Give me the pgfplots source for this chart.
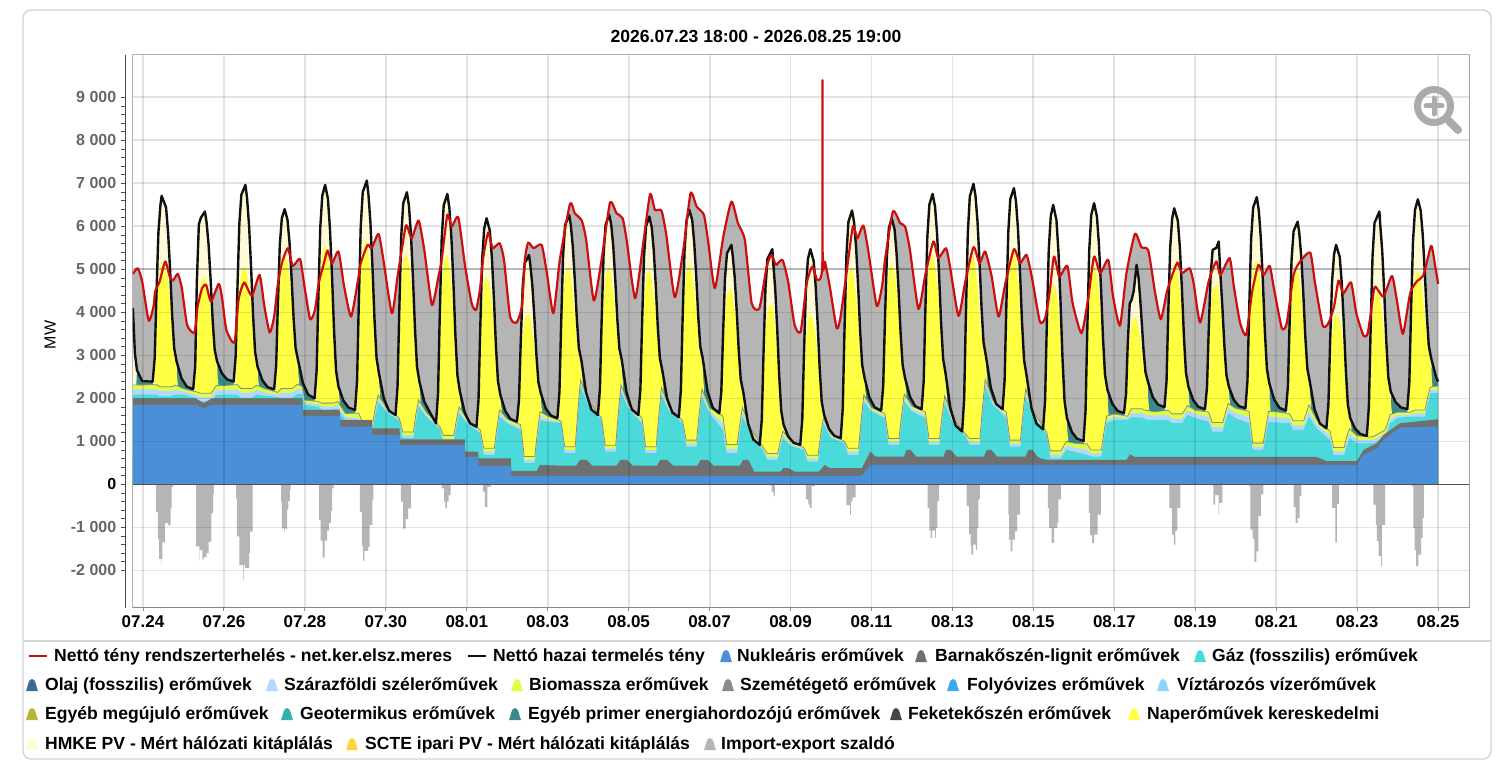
\documentclass[border=0pt]{standalone}
\usepackage{pgfplots}
\usepackage{pgfplotstable}
\usepackage{fontspec}
\setmainfont{Liberation Sans}
\pgfplotsset{compat=1.18}
\definecolor{cNuc}{HTML}{4A90D9}
\definecolor{cLig}{HTML}{707070}
\definecolor{cGas}{HTML}{4BDADA}
\definecolor{cOil}{HTML}{3D6A97}
\definecolor{cWind}{HTML}{B3D7FF}
\definecolor{cBio}{HTML}{DDFF44}
\definecolor{cTrash}{HTML}{8A8A8A}
\definecolor{cRiv}{HTML}{3BA9F5}
\definecolor{cRes}{HTML}{8FD4FF}
\definecolor{cOth}{HTML}{B5B536}
\definecolor{cGeo}{HTML}{36B0AD}
\definecolor{cPri}{HTML}{3B8A8A}
\definecolor{cCoal}{HTML}{444444}
\definecolor{cSun}{HTML}{FFFF44}
\definecolor{cHmke}{HTML}{FFFBD6}
\definecolor{cScte}{HTML}{FFD23F}
\definecolor{cImp}{HTML}{B5B5B5}
\definecolor{cRed}{HTML}{CC0E0E}
\definecolor{cBlack}{HTML}{111111}
\definecolor{cTick}{HTML}{666666}

\pgfplotstableread[row sep=crcr]{
x y\\
-0.25 4895\\ -0.13 5027\\ -0.02 4717\\ 0.14 3810\\ 0.26 4136\\ 0.3 4484\\ 0.41 4717\\ 0.55 5182\\ 0.66 4833\\ 0.74 4740\\ 0.86 4895\\ 0.96 4562\\
1.09 3710\\ 1.27 3531\\ 1.35 4136\\ 1.46 4562\\ 1.56 4640\\ 1.68 4252\\ 1.87 4663\\ 1.95 4368\\
2.06 3593\\ 2.26 3299\\ 2.36 4291\\ 2.5 4694\\ 2.69 4384\\ 2.88 4872\\ 3.0 4136\\
3.13 3531\\ 3.24 3903\\ 3.33 4640\\ 3.43 5143\\ 3.58 5492\\ 3.7 5081\\ 3.88 5244\\ 3.99 4601\\
4.13 3841\\ 4.25 4058\\ 4.34 4678\\ 4.46 5104\\ 4.56 5438\\ 4.67 5143\\ 4.83 5414\\ 4.97 4601\\
5.14 3903\\ 5.3 4678\\ 5.38 5143\\ 5.55 5569\\ 5.65 5492\\ 5.82 5825\\ 5.94 5221\\
6.15 3980\\ 6.29 4833\\ 6.48 5957\\ 6.53 5996\\ 6.64 5725\\ 6.81 6136\\ 6.95 5453\\
7.14 4175\\ 7.3 4833\\ 7.38 5221\\ 7.52 6267\\ 7.63 5996\\ 7.79 6213\\ 7.96 5066\\
8.12 4213\\ 8.23 4058\\ 8.33 4562\\ 8.41 5298\\ 8.53 5857\\ 8.64 5492\\ 8.81 5609\\ 8.92 5221\\
9.07 3903\\ 9.23 3764\\ 9.36 4136\\ 9.44 5260\\ 9.52 5624\\ 9.65 5492\\ 9.85 5570\\ 9.98 4911\\
10.14 3980\\ 10.3 5221\\ 10.55 6525\\ 10.67 6306\\ 10.84 6136\\ 10.95 5686\\
11.14 4275\\ 11.33 5221\\ 11.54 6555\\ 11.7 6306\\ 11.85 6190\\ 11.95 5686\\
12.16 4330\\ 12.36 5609\\ 12.53 6748\\ 12.65 6384\\ 12.81 6368\\ 12.93 5803\\
13.14 4353\\ 13.35 5454\\ 13.53 6771\\ 13.68 6461\\ 13.86 6268\\ 13.97 5609\\
14.13 4562\\ 14.34 5764\\ 14.54 6578\\ 14.7 6074\\ 14.87 5686\\ 15.04 4213\\
15.23 4097\\ 15.41 5066\\ 15.53 5337\\ 15.64 5105\\ 15.8 5221\\ 15.94 4717\\
16.1 3710\\ 16.25 3554\\ 16.4 4678\\ 16.54 5066\\ 16.66 4756\\ 16.785 5120\\ 16.79 9400\\ 16.795 5130\\ 16.85 5182\\ 16.97 4600\\
17.14 3632\\ 17.23 3864\\ 17.35 4678\\ 17.54 5996\\ 17.65 5725\\ 17.8 6020\\ 17.93 5376\\
18.13 4151\\ 18.26 4601\\ 18.34 5260\\ 18.53 6345\\ 18.71 6074\\ 18.83 5996\\ 18.95 5454\\
19.16 4082\\ 19.33 4872\\ 19.53 5648\\ 19.65 5260\\ 19.84 5492\\ 19.94 5066\\
20.15 3919\\ 20.31 4678\\ 20.52 5516\\ 20.67 5144\\ 20.81 5415\\ 20.97 4833\\
21.14 3903\\ 21.3 4639\\ 21.52 5469\\ 21.67 5144\\ 21.83 5337\\ 21.96 4833\\
22.16 3787\\ 22.29 3864\\ 22.4 4446\\ 22.51 5298\\ 22.64 4833\\ 22.84 5081\\ 22.97 4213\\
23.19 3516\\ 23.36 4369\\ 23.5 5298\\ 23.65 4911\\ 23.85 5221\\ 23.97 4369\\
24.14 3694\\ 24.3 4911\\ 24.51 5825\\ 24.67 5516\\ 24.84 5438\\ 25.01 4446\\
25.15 3841\\ 25.3 4484\\ 25.42 4833\\ 25.56 5159\\ 25.67 4911\\ 25.86 5027\\ 25.96 4678\\
26.12 3764\\ 26.33 4717\\ 26.52 5182\\ 26.62 4872\\ 26.85 5260\\ 26.96 4562\\
27.11 3748\\ 27.26 3477\\ 27.4 4446\\ 27.56 5105\\ 27.69 4872\\ 27.84 5081\\ 27.95 4523\\
28.14 3632\\ 28.26 3748\\ 28.43 4872\\ 28.59 5182\\ 28.84 5392\\ 28.96 4678\\
29.15 3694\\ 29.29 3748\\ 29.43 4136\\ 29.54 4740\\ 29.66 4446\\ 29.85 4694\\ 29.98 3980\\
30.16 3454\\ 30.26 3510\\ 30.36 4136\\ 30.44 4601\\ 30.65 4369\\ 30.86 4849\\ 30.98 4291\\
31.13 3500\\ 31.31 4446\\ 31.47 4717\\ 31.64 4872\\ 31.83 5547\\ 31.93 5066\\ 32.0 4663\\
}\redtab

\pgfplotstableread[row sep=crcr]{
x y\\
-0.25 4100\\ -0.2 3050\\ -0.15 2660\\ -0.02 2400\\ 0.24 2390\\
0.29 2950\\ 0.33 4330\\ 0.38 5850\\ 0.43 6490\\ 0.46 6710\\ 0.57 6440\\ 0.62 5860\\ 0.67 4980\\ 0.72 3940\\ 0.77 3170\\ 0.83 2860\\ 0.95 2470\\ 1.08 2275\\ 1.24 2210\\
1.29 2750\\ 1.33 4700\\ 1.38 6050\\ 1.43 6200\\ 1.53 6345\\ 1.57 6100\\ 1.62 5580\\ 1.67 4780\\ 1.72 3835\\ 1.77 3140\\ 1.83 2860\\ 1.95 2580\\ 2.08 2440\\ 2.24 2390\\
2.29 2985\\ 2.33 4450\\ 2.38 6050\\ 2.43 6736\\ 2.53 6965\\ 2.57 6670\\ 2.62 6035\\ 2.67 5065\\ 2.72 3925\\ 2.77 3080\\ 2.83 2740\\ 2.95 2420\\ 3.08 2260\\ 3.24 2210\\
3.29 2755\\ 3.33 4095\\ 3.38 5560\\ 3.43 6190\\ 3.5 6400\\ 3.57 6155\\ 3.62 5630\\ 3.67 4820\\ 3.72 3875\\ 3.77 3175\\ 3.83 2895\\ 3.95 2360\\ 4.08 2090\\ 4.24 2000\\
4.29 2645\\ 4.33 4235\\ 4.38 5970\\ 4.43 6715\\ 4.5 6965\\ 4.57 6640\\ 4.62 5930\\ 4.67 4855\\ 4.72 3590\\ 4.77 2650\\ 4.83 2275\\ 4.95 1950\\ 5.08 1785\\ 5.24 1730\\
5.29 2424\\ 5.33 4130\\ 5.38 5998\\ 5.43 6798\\ 5.53 7065\\ 5.57 6750\\ 5.62 6080\\ 5.67 5050\\ 5.72 3840\\ 5.77 2945\\ 5.83 2585\\ 5.95 2000\\ 6.08 1710\\ 6.24 1615\\
6.29 2288\\ 6.33 3945\\ 6.38 5760\\ 6.43 6536\\ 6.52 6795\\ 6.57 6490\\ 6.62 5825\\ 6.67 4815\\ 6.72 3625\\ 6.77 2740\\ 6.83 2390\\ 6.95 1925\\ 7.08 1690\\ 7.24 1420\\
7.29 2114\\ 7.33 3820\\ 7.38 5690\\ 7.43 6490\\ 7.52 6755\\ 7.57 6435\\ 7.62 5745\\ 7.67 4690\\ 7.72 3445\\ 7.77 2530\\ 7.83 2160\\ 7.95 1670\\ 8.08 1420\\ 8.24 1340\\
8.29 1970\\ 8.33 3520\\ 8.38 5220\\ 8.43 5950\\ 8.49 6190\\ 8.57 5900\\ 8.62 5285\\ 8.67 4340\\ 8.72 3230\\ 8.77 2410\\ 8.83 2080\\ 8.95 1710\\ 9.08 1520\\ 9.24 1460\\
9.29 1964\\ 9.33 3200\\ 9.38 4560\\ 9.43 5140\\ 9.54 5335\\ 9.57 5110\\ 9.62 4630\\ 9.67 3890\\ 9.72 3020\\ 9.77 2375\\ 9.83 2120\\ 9.95 1770\\ 10.08 1600\\ 10.24 1540\\
10.29 2155\\ 10.33 3670\\ 10.38 5325\\ 10.43 6035\\ 10.53 6270\\ 10.57 6035\\ 10.62 5530\\ 10.67 4750\\ 10.72 3840\\ 10.77 3165\\ 10.83 2895\\ 10.95 2130\\ 11.08 1740\\ 11.24 1615\\
11.29 2220\\ 11.33 3710\\ 11.38 5340\\ 11.43 6040\\ 11.52 6270\\ 11.57 6035\\ 11.62 5530\\ 11.67 4750\\ 11.72 3840\\ 11.77 3165\\ 11.83 2895\\ 11.95 2130\\ 12.08 1740\\ 12.24 1615\\
12.29 2215\\ 12.33 3690\\ 12.38 5305\\ 12.43 6000\\ 12.51 6230\\ 12.57 5980\\ 12.62 5445\\ 12.67 4625\\ 12.72 3660\\ 12.77 2945\\ 12.83 2660\\ 12.95 2000\\ 13.08 1670\\ 13.24 1560\\
13.29 2187\\ 13.33 3730\\ 13.38 5420\\ 13.43 6145\\ 13.5 6385\\ 13.57 6145\\ 13.62 5625\\ 13.67 4830\\ 13.72 3895\\ 13.77 3205\\ 13.83 2930\\ 13.95 2165\\ 14.08 1780\\ 14.24 1655\\
14.29 2164\\ 14.33 3415\\ 14.38 4790\\ 14.43 5375\\ 14.54 5570\\ 14.57 5330\\ 14.62 4820\\ 14.67 4035\\ 14.72 3115\\ 14.77 2435\\ 14.83 2160\\ 14.95 1415\\ 15.08 1045\\ 15.24 920\\
15.29 1511\\ 15.33 2970\\ 15.38 4560\\ 15.43 5245\\ 15.55 5470\\ 15.57 5185\\ 15.62 4570\\ 15.67 3630\\ 15.72 2525\\ 15.77 1710\\ 15.83 1380\\ 15.95 1105\\ 16.08 965\\ 16.24 920\\
16.29 1511\\ 16.33 2970\\ 16.38 4560\\ 16.43 5245\\ 16.49 5470\\ 16.57 5200\\ 16.62 4620\\ 16.67 3735\\ 16.72 2695\\ 16.77 1925\\ 16.83 1615\\ 16.95 1290\\ 17.08 1130\\ 17.24 1075\\
17.29 1763\\ 17.33 3460\\ 17.38 5310\\ 17.43 6105\\ 17.52 6370\\ 17.57 6095\\ 17.62 5510\\ 17.67 4615\\ 17.72 3560\\ 17.77 2780\\ 17.83 2470\\ 17.95 2015\\ 18.08 1790\\ 18.24 1715\\
18.29 2297\\ 18.33 3730\\ 18.38 5295\\ 18.43 5965\\ 18.5 6190\\ 18.57 5930\\ 18.62 5370\\ 18.67 4515\\ 18.72 3510\\ 18.77 2770\\ 18.83 2470\\ 18.95 2040\\ 19.08 1820\\ 19.24 1750\\
19.29 2401\\ 19.33 4000\\ 19.38 5755\\ 19.43 6505\\ 19.51 6755\\ 19.57 6465\\ 19.62 5840\\ 19.67 4880\\ 19.72 3755\\ 19.77 2920\\ 19.83 2585\\ 19.95 1770\\ 20.08 1365\\ 20.24 1230\\
20.29 1979\\ 20.33 3820\\ 20.38 5840\\ 20.43 6700\\ 20.52 6990\\ 20.57 6710\\ 20.62 6105\\ 20.67 5180\\ 20.72 4095\\ 20.77 3290\\ 20.83 2970\\ 20.95 2240\\ 21.08 1870\\ 21.24 1750\\
21.29 2418\\ 21.33 4060\\ 21.38 5860\\ 21.43 6635\\ 21.52 6890\\ 21.57 6585\\ 21.62 5935\\ 21.67 4935\\ 21.72 3760\\ 21.77 2890\\ 21.83 2545\\ 21.95 1785\\ 22.08 1405\\ 22.24 1280\\
22.29 1959\\ 22.33 3630\\ 22.38 5455\\ 22.43 6240\\ 22.49 6500\\ 22.57 6150\\ 22.62 5410\\ 22.67 4270\\ 22.72 2930\\ 22.77 1940\\ 22.83 1540\\ 22.95 1220\\ 23.08 1060\\ 23.24 1010\\
23.29 1729\\ 23.33 3500\\ 23.38 5435\\ 23.43 6265\\ 23.5 6540\\ 23.57 6235\\ 23.62 5585\\ 23.67 4590\\ 23.72 3415\\ 23.77 2550\\ 23.83 2200\\ 23.95 1875\\ 24.08 1710\\ 24.24 1655\\
24.29 2104\\ 24.33 3210\\ 24.38 4200\\ 24.43 4300\\ 24.48 4500\\ 24.55 5105\\ 24.6 4800\\ 24.64 4300\\ 24.67 3885\\ 24.72 3150\\ 24.77 2610\\ 24.83 2390\\ 24.95 2030\\ 25.08 1855\\ 25.24 1795\\
25.29 2396\\ 25.33 3875\\ 25.38 5495\\ 25.43 6190\\ 25.48 6420\\ 25.57 6130\\ 25.62 5510\\ 25.67 4555\\ 25.72 3435\\ 25.77 2605\\ 25.83 2275\\ 25.95 1960\\ 26.08 1800\\ 26.24 1750\\
26.29 2257\\ 26.33 3505\\ 26.38 4870\\ 26.43 5455\\ 26.52 5500\\ 26.58 5650\\ 26.62 4910\\ 26.67 4130\\ 26.72 3220\\ 26.77 2545\\ 26.83 2275\\ 26.95 1970\\ 27.08 1820\\ 27.24 1770\\
27.29 2408\\ 27.33 3980\\ 27.38 5700\\ 27.43 6435\\ 27.52 6680\\ 27.57 6375\\ 27.62 5730\\ 27.67 4730\\ 27.72 3560\\ 27.77 2695\\ 27.83 2350\\ 27.95 1970\\ 28.08 1780\\ 28.24 1715\\
28.29 2286\\ 28.33 3695\\ 28.38 5230\\ 28.43 5890\\ 28.53 6110\\ 28.57 5850\\ 28.62 5290\\ 28.67 4435\\ 28.72 3430\\ 28.77 2690\\ 28.83 2390\\ 28.95 1740\\ 29.08 1415\\ 29.24 1305\\
29.29 1859\\ 29.33 3225\\ 29.38 4720\\ 29.43 5355\\ 29.48 5570\\ 29.57 5290\\ 29.62 4685\\ 29.67 3755\\ 29.72 2670\\ 29.77 1860\\ 29.83 1540\\ 29.95 1295\\ 30.08 1170\\ 30.24 1130\\
30.29 1808\\ 30.33 3475\\ 30.38 5300\\ 30.43 6085\\ 30.55 6345\\ 30.57 6050\\ 30.62 5425\\ 30.67 4460\\ 30.72 3330\\ 30.77 2495\\ 30.83 2160\\ 30.95 1915\\ 31.08 1790\\ 31.24 1750\\
31.29 2384\\ 31.33 3945\\ 31.38 5655\\ 31.43 6385\\ 31.5 6630\\ 31.57 6370\\ 31.62 5815\\ 31.67 4965\\ 31.72 3965\\ 31.77 3225\\ 31.83 2930\\ 31.95 2500\\ 32.0 2390\\
}\blacktab

\pgfplotstableread[row sep=crcr]{
x g l w\\
-0.25 2090 2310 2210\\
0.33 2090 2320 2210\\ 0.42 2050 2270 2170\\ 0.68 2050 2270 2170\\ 0.74 2070 2280 2180\\ 0.81 2090 2310 2200\\ 1.0 2090 2225 2160\\
1.33 2000 2150 2080\\ 1.42 1930 2120 2030\\ 1.68 1930 2120 2030\\ 1.74 2000 2190 2100\\ 1.81 2080 2300 2190\\ 2.0 2090 2300 2190\\
2.33 2090 2320 2210\\ 2.42 2010 2230 2130\\ 2.68 2010 2230 2130\\ 2.74 2050 2260 2160\\ 2.81 2090 2310 2200\\ 3.0 2060 2230 2140\\
3.33 2030 2140 2080\\ 3.42 2010 2230 2130\\ 3.68 2010 2230 2130\\ 3.74 2050 2270 2160\\ 3.81 2100 2330 2220\\ 3.93 2100 2280 2190\\ 4.0 1850 1960 1900\\
4.33 1800 1930 1860\\ 4.42 1740 1890 1810\\ 4.68 1740 1890 1810\\ 4.74 1750 1900 1820\\ 4.81 1760 1930 1840\\ 5.0 1500 1650 1570\\
5.33 1420 1660 1540\\ 5.42 1300 1450 1370\\ 5.68 1300 1450 1370\\ 5.74 1600 1770 1680\\ 5.81 1926 2080 2000\\ 6.0 1700 1800 1750\\
6.33 1480 1545 1510\\ 6.42 1074 1220 1140\\ 6.68 1074 1220 1140\\ 6.74 1450 1620 1530\\ 6.81 1810 1960 1880\\ 7.0 1570 1680 1620\\
7.33 1300 1350 1320\\ 7.42 995 1140 1060\\ 7.68 995 1140 1060\\ 7.74 1320 1480 1400\\ 7.81 1655 1800 1720\\ 8.0 1420 1530 1470\\
8.33 1190 1270 1230\\ 8.42 686 840 760\\ 8.68 686 840 760\\ 8.74 1130 1290 1200\\ 8.81 1577 1730 1650\\ 9.0 1420 1520 1470\\
9.33 1267 1390 1320\\ 9.42 500 650 570\\ 9.68 500 650 570\\ 9.74 1000 1170 1080\\ 9.81 1500 1690 1590\\ 10.0 1460 1590 1520\\
10.33 1423 1470 1445\\ 10.42 725 875 800\\ 10.68 725 875 800\\ 10.74 1500 1650 1570\\ 10.81 2275 2430 2350\\ 11.0 1850 1950 1900\\
11.33 1500 1545 1520\\ 11.42 763 910 830\\ 11.68 763 910 830\\ 11.74 1460 1610 1530\\ 11.81 2160 2320 2240\\ 12.0 1750 1850 1800\\
12.33 1423 1545 1480\\ 12.42 725 875 800\\ 12.68 725 875 800\\ 12.74 1400 1560 1480\\ 12.81 2080 2250 2160\\ 13.0 1700 1800 1750\\
13.33 1423 1490 1455\\ 13.42 880 1030 950\\ 13.68 880 1030 950\\ 13.74 1460 1620 1530\\ 13.81 2043 2220 2120\\ 14.0 1650 1780 1710\\
14.33 1267 1585 1420\\ 14.42 725 930 820\\ 14.68 725 930 820\\ 14.74 1150 1350 1240\\ 14.81 1577 1790 1690\\ 15.0 1200 1320 1260\\
15.33 780 850 810\\ 15.42 570 720 640\\ 15.68 570 720 640\\ 15.74 820 970 890\\ 15.81 1074 1240 1150\\ 16.0 900 1010 950\\
16.33 802 850 825\\ 16.42 530 680 600\\ 16.68 530 680 600\\ 16.74 980 1130 1050\\ 16.81 1423 1540 1480\\ 17.0 1080 1170 1120\\
17.33 957 1005 980\\ 17.42 686 840 760\\ 17.68 686 840 760\\ 17.74 1300 1450 1370\\ 17.81 1926 2080 2000\\ 18.0 1700 1790 1740\\
18.33 1540 1645 1590\\ 18.42 919 1070 990\\ 18.68 919 1070 990\\ 18.74 1420 1580 1500\\ 18.81 1926 2100 2010\\ 19.0 1700 1820 1760\\
19.33 1540 1680 1610\\ 19.42 919 1070 990\\ 19.68 919 1070 990\\ 19.74 1400 1560 1480\\ 19.81 1887 2060 1970\\ 20.0 1450 1540 1490\\
20.33 1100 1160 1130\\ 20.42 919 1070 990\\ 20.68 919 1070 990\\ 20.74 1600 1760 1680\\ 20.81 2275 2440 2350\\ 21.0 1850 1950 1900\\
21.33 1540 1680 1600\\ 21.42 880 1030 950\\ 21.68 880 1030 950\\ 21.74 1460 1620 1530\\ 21.81 2043 2220 2120\\ 22.0 1600 1700 1650\\
22.33 1150 1210 1180\\ 22.42 608 780 690\\ 22.68 608 780 690\\ 22.74 700 880 790\\ 22.81 802 1000 900\\ 23.0 760 960 860\\
23.33 686 940 810\\ 23.42 647 800 720\\ 23.68 647 800 720\\ 23.74 1030 1190 1110\\ 23.81 1423 1590 1500\\ 24.0 1500 1640 1570\\
24.33 1500 1585 1540\\ 24.42 1560 1760 1660\\ 24.68 1560 1760 1660\\ 24.74 1530 1730 1630\\ 24.81 1500 1720 1610\\ 25.0 1500 1690 1600\\
25.33 1500 1725 1620\\ 25.42 1423 1640 1530\\ 25.68 1423 1640 1530\\ 25.74 1520 1730 1630\\ 25.81 1616 1830 1720\\ 26.0 1540 1730 1640\\
26.33 1461 1680 1570\\ 26.42 1229 1440 1330\\ 26.68 1229 1440 1330\\ 26.74 1440 1640 1540\\ 26.81 1655 1880 1770\\ 27.0 1540 1770 1660\\
27.33 1423 1700 1560\\ 27.42 802 960 880\\ 27.68 802 960 880\\ 27.74 1130 1300 1210\\ 27.81 1461 1700 1580\\ 28.0 1440 1690 1560\\
28.33 1423 1645 1530\\ 28.42 1267 1480 1370\\ 28.68 1267 1480 1370\\ 28.74 1420 1640 1530\\ 28.81 1577 1850 1700\\ 29.0 1300 1500 1400\\
29.33 1035 1235 1130\\ 29.42 686 860 770\\ 29.68 686 860 770\\ 29.74 880 1100 990\\ 29.81 1074 1290 1180\\ 30.0 950 1130 1040\\
30.33 960 1100 1030\\ 30.42 960 1120 1040\\ 30.68 1100 1260 1180\\ 30.74 1200 1380 1290\\ 30.81 1420 1620 1520\\ 31.0 1550 1680 1610\\
31.33 1578 1680 1625\\ 31.42 1578 1730 1650\\ 31.68 1578 1730 1650\\ 31.74 1850 2030 1940\\ 31.81 2120 2260 2190\\ 32.0 2120 2290 2200\\
}\basetab

\newcommand{\mk}[3]{\fill[#3] ({#1-6},{777-#2-6})--({#1+6},{777-#2-6}) .. controls ({#1+4},{777-#2-2}) and ({#1+4},{777-#2+6}) .. ({#1},{777-#2+6}) .. controls ({#1-4},{777-#2+6}) and ({#1-4},{777-#2-2}) .. ({#1-6},{777-#2-6}) -- cycle;}
\newcommand{\lgd}[3]{\node[anchor=base west,inner sep=0pt,font=\fontsize{17.55}{19}\selectfont\bfseries,text=black] at ({#1},{777-#2-5.5}) {#3};}

\begin{document}
\begin{tikzpicture}[x=1pt,y=1pt]
\useasboundingbox (0,0) rectangle (1498,777);
\fill[white] (0,0) rectangle (1498,777);
\draw[color=black!17,line width=1.4pt,rounded corners=8pt] (23,{777-759}) rectangle (1491,{777-10});
\draw[color=black!17,line width=1.8pt] (23,{777-641}) -- (1491,{777-641});
\node[font=\fontsize{17.55}{19}\selectfont\bfseries] at (756,{777-36}) {2026.07.23 18:00 - 2026.08.25 19:00};
\node[rotate=90,font=\fontsize{16}{18}\selectfont] at (50,{777-335}) {MW};

\begin{axis}[
  at={(132.7pt,169.3pt)},anchor=south west,scale only axis,
  width=1336.6pt,height=552.7pt,
  xmin=-0.2545,xmax=32.772,ymin=-2867,ymax=9986,
  xtick={0,2,...,32},
  xticklabels={07.24,07.26,07.28,07.30,08.01,08.03,08.05,08.07,08.09,08.11,08.13,08.15,08.17,08.19,08.21,08.23,08.25},
  ytick=\empty,
  x tick label style={font=\fontsize{17}{19}\selectfont\bfseries,text=black},
  xtick pos=bottom,tick align=outside,major tick length=3pt,
  tick style={color=black!45,line width=1pt},
  xticklabel style={yshift=-1pt},
  axis line style={draw=black!30,line width=1pt},
  clip=true,
]
% negative balance
\addplot[const plot,fill=cImp,draw=none] coordinates {
(-0.25,0)(0.32,-640)(0.37,-1270)(0.40,-1730)(0.44,-1890)(0.45,-1730)(0.48,-1350)(0.54,-900)(0.63,-950)(0.68,-550)(0.71,-60)(0.75,0)
(1.31,-1440)(1.39,-1770)(1.40,-1520)(1.47,-1750)(1.50,-1690)(1.57,-1600)(1.62,-1330)(1.69,-670)(1.73,-220)(1.75,0)
(2.30,-325)(2.32,-1210)(2.38,-1870)(2.48,-2215)(2.49,-1870)(2.52,-1945)(2.62,-1600)(2.64,-1100)(2.71,0)
(3.41,-400)(3.43,-1020)(3.49,-1120)(3.50,-1020)(3.53,-1040)(3.56,-580)(3.59,-380)(3.63,-130)(3.65,0)
(4.35,-830)(4.39,-1305)(4.44,-1700)(4.49,-1305)(4.55,-1075)(4.59,-900)(4.64,-620)(4.67,-90)(4.71,0)
(5.36,-640)(5.41,-1430)(5.44,-1770)(5.47,-1545)(5.56,-1460)(5.60,-940)(5.67,-360)(5.69,0)
(6.37,-400)(6.43,-1030)(6.49,-810)(6.55,-560)(6.62,0)
(7.38,-90)(7.44,-400)(7.47,-560)(7.51,-400)(7.55,-250)(7.60,0)
(8.40,-170)(8.45,-520)(8.51,-50)(8.60,0)
(15.47,-20)(15.53,-170)(15.58,-270)(15.61,0)
(16.38,-350)(16.44,-470)(16.48,-545)(16.52,-40)(16.60,0)
(17.38,-480)(17.47,-715)(17.49,-400)(17.53,-300)(17.61,0)
(19.39,-545)(19.43,-1075)(19.46,-1245)(19.50,-1075)(19.57,-1245)(19.59,-1010)(19.63,-390)(19.67,0)
(20.35,-505)(20.41,-1150)(20.45,-1440)(20.47,-1635)(20.51,-1400)(20.58,-1520)(20.61,-1010)(20.64,-350)(20.68,0)
(21.35,-15)(21.38,-700)(21.40,-1285)(21.44,-1560)(21.48,-1285)(21.54,-1090)(21.60,-700)(21.67,0)
(22.36,-545)(22.39,-1010)(22.45,-1360)(22.51,-1010)(22.59,-895)(22.62,-350)(22.68,0)
(23.37,-660)(23.40,-1180)(23.45,-1360)(23.50,-1170)(23.59,-700)(23.67,0)
(25.36,-545)(25.42,-1170)(25.47,-1400)(25.51,-1075)(25.56,-545)(25.63,0)
(26.43,-40)(26.45,-470)(26.49,-250)(26.58,-685)(26.59,-430)(26.67,0)
(27.33,-40)(27.36,-1050)(27.42,-1260)(27.46,-1800)(27.51,-1560)(27.56,-740)(27.62,-230)(27.68,0)
(28.43,-530)(28.48,-895)(28.53,-780)(28.58,-270)(28.62,0)
(29.38,-545)(29.46,-1345)(29.50,-450)(29.55,0)
(30.40,-470)(30.46,-940)(30.49,-1320)(30.53,-1670)(30.59,-1900)(30.61,-940)(30.69,0)
(31.35,-40)(31.39,-1010)(31.42,-1520)(31.46,-1900)(31.51,-1635)(31.58,-1245)(31.62,-780)(31.65,0)(32,0)
} \closedcycle;
% import area up to load
\addplot[smooth,tension=0.35,fill=cImp,draw=none] table[x=x,y=y] {\redtab} \closedcycle;
% rooftop PV up to production
\addplot[fill=cHmke,draw=none] table[x=x,y=y] {\blacktab} \closedcycle;
% other primary wedge
\addplot[fill=cPri,draw=none] coordinates {
(-0.25,600)(-0.15,2630)(-0.02,2370)(0.24,2360)(0.34,600)
(0.80,600)(0.84,2820)(0.95,2440)(1.08,2245)(1.24,2180)(1.34,600)
(1.80,600)(1.84,2820)(1.95,2550)(2.08,2410)(2.24,2360)(2.34,600)
(2.80,600)(2.84,2700)(2.95,2390)(3.08,2230)(3.24,2180)(3.34,600)
(3.80,600)(3.84,2855)(3.95,2330)(4.08,2060)(4.24,1970)(4.34,600)
(4.80,600)(4.84,2235)(4.95,1920)(5.08,1755)(5.24,1700)(5.34,600)
(5.80,600)(5.84,2545)(5.95,1970)(6.08,1680)(6.24,1585)(6.34,600)
(6.80,600)(6.84,2350)(6.95,1895)(7.08,1660)(7.24,1390)(7.34,600)
(7.80,600)(7.84,2120)(7.95,1640)(8.08,1390)(8.24,1310)(8.34,600)
(8.80,600)(8.84,2040)(8.95,1680)(9.08,1490)(9.24,1430)(9.34,600)
(9.80,600)(9.84,2080)(9.95,1740)(10.08,1570)(10.24,1510)(10.34,600)
(10.80,600)(10.84,2855)(10.95,2100)(11.08,1710)(11.24,1585)(11.34,600)
(11.80,600)(11.84,2855)(11.95,2100)(12.08,1710)(12.24,1585)(12.34,600)
(12.80,600)(12.84,2620)(12.95,1970)(13.08,1640)(13.24,1530)(13.34,600)
(13.80,600)(13.84,2890)(13.95,2135)(14.08,1750)(14.24,1625)(14.34,600)
(14.80,600)(14.84,2120)(14.95,1385)(15.08,1015)(15.24,890)(15.34,500)
(15.80,500)(15.84,1340)(15.95,1075)(16.08,935)(16.24,890)(16.34,500)
(16.80,500)(16.84,1575)(16.95,1260)(17.08,1100)(17.24,1045)(17.34,600)
(17.80,600)(17.84,2430)(17.95,1985)(18.08,1760)(18.24,1685)(18.34,600)
(18.80,600)(18.84,2430)(18.95,2010)(19.08,1790)(19.24,1720)(19.34,600)
(19.80,600)(19.84,2545)(19.95,1740)(20.08,1335)(20.24,1200)(20.34,600)
(20.80,600)(20.84,2930)(20.95,2210)(21.08,1840)(21.24,1720)(21.34,600)
(21.80,600)(21.84,2505)(21.95,1755)(22.08,1375)(22.24,1250)(22.34,600)
(22.80,600)(22.84,1500)(22.95,1190)(23.08,1030)(23.24,980)(23.34,600)
(23.80,600)(23.84,2160)(23.95,1845)(24.08,1680)(24.24,1625)(24.34,600)
(24.80,600)(24.84,2350)(24.95,2000)(25.08,1825)(25.24,1765)(25.34,600)
(25.80,600)(25.84,2235)(25.95,1930)(26.08,1770)(26.24,1720)(26.34,600)
(26.80,600)(26.84,2235)(26.95,1940)(27.08,1790)(27.24,1740)(27.34,600)
(27.80,600)(27.84,2310)(27.95,1940)(28.08,1750)(28.24,1685)(28.34,600)
(28.80,600)(28.84,2350)(28.95,1710)(29.08,1385)(29.24,1275)(29.34,600)
(29.80,600)(29.84,1500)(29.95,1265)(30.08,1140)(30.24,1100)(30.34,600)
(30.80,600)(30.84,2120)(30.95,1885)(31.08,1760)(31.24,1720)(31.34,600)
(31.80,600)(31.84,2870)(31.95,2470)(32.0,2360)
} \closedcycle;
% commercial solar
\addplot[fill=cSun,draw=none] coordinates {
(0.26,0)(0.285,2390)(0.33,3655)(0.38,4640)(0.44,5090)(0.46,5200)(0.58,4975)(0.64,4580)(0.70,4020)(0.76,3120)(0.80,2935)(0.86,2340)(0.88,0)
(1.26,0)(1.285,2210)(1.33,3390)(1.38,4305)(1.44,4725)(1.53,4830)(1.58,4620)(1.64,4255)(1.70,3730)(1.76,3090)(1.80,2920)(1.86,2330)(1.88,0)
(2.26,0)(2.285,2390)(2.33,3595)(2.38,4530)(2.44,4960)(2.53,5065)(2.58,4850)(2.64,4475)(2.70,3940)(2.76,3030)(2.80,2830)(2.86,2340)(2.88,0)
(3.26,0)(3.285,2210)(3.33,3635)(3.38,4740)(3.44,5250)(3.5,5375)(3.58,5120)(3.64,4680)(3.70,4045)(3.76,3125)(3.80,2955)(3.86,2360)(3.88,0)
(4.26,0)(4.285,2000)(4.33,3605)(4.38,4855)(4.44,5425)(4.5,5570)(4.58,5285)(4.64,4785)(4.70,4070)(4.76,2600)(4.80,2380)(4.86,1960)(4.88,0)
(5.26,0)(5.285,1730)(5.33,3510)(5.38,4900)(5.44,5530)(5.53,5690)(5.58,5375)(5.64,4820)(5.70,4027)(5.76,2895)(5.80,2685)(5.86,2110)(5.88,0)
(6.26,0)(6.285,1615)(6.33,3310)(6.38,4620)(6.44,5225)(6.52,5375)(6.58,5075)(6.64,4550)(6.70,3795)(6.76,2690)(6.80,2485)(6.86,1990)(6.88,0)
(7.26,0)(7.285,1420)(7.33,3185)(7.38,4555)(7.44,5185)(7.52,5340)(7.58,5025)(7.64,4480)(7.70,3694)(7.76,2480)(7.80,2265)(7.86,1830)(7.88,0)
(8.26,0)(8.285,1340)(8.33,2925)(8.38,4160)(8.44,4725)(8.49,4865)(8.58,4585)(8.64,4090)(8.70,3385)(8.76,2360)(8.80,2165)(8.86,1760)(8.88,0)
(9.26,0)(9.285,1460)(9.33,2595)(9.38,3475)(9.44,3880)(9.54,3980)(9.58,3780)(9.64,3425)(9.70,2922)(9.76,2325)(9.80,2170)(9.86,1720)(9.88,0)
(10.26,0)(10.285,1540)(10.33,3125)(10.38,4360)(10.44,4925)(10.53,5065)(10.58,4785)(10.64,4290)(10.70,3585)(10.76,3115)(10.80,2950)(10.86,2460)(10.88,0)
(11.26,0)(11.285,1615)(11.33,3170)(11.38,4375)(11.44,4925)(11.52,5065)(11.58,4790)(11.64,4305)(11.70,3615)(11.76,3115)(11.80,2950)(11.86,2350)(11.88,0)
(12.26,0)(12.285,1615)(12.33,3135)(12.38,4315)(12.44,4855)(12.51,4990)(12.58,4720)(12.64,4250)(12.70,3573)(12.76,2895)(12.80,2720)(12.86,2280)(12.88,0)
(13.26,0)(13.285,1560)(13.33,3175)(13.38,4430)(13.44,5000)(13.5,5145)(13.58,4860)(13.64,4355)(13.70,3640)(13.76,3155)(13.80,2990)(13.86,2250)(13.88,0)
(14.26,0)(14.285,1655)(14.33,2960)(14.38,3980)(14.44,4445)(14.54,4560)(14.58,4330)(14.64,3920)(14.70,3340)(14.76,2385)(14.80,2220)(14.86,1820)(14.88,0)
(15.26,0)(15.285,920)(15.33,2405)(15.38,3555)(15.44,4085)(15.55,4215)(15.58,3950)(15.64,3490)(15.70,2831)(15.76,1660)(15.80,1465)(15.86,1270)(15.88,0)
(16.26,0)(16.285,920)(16.33,2300)(16.38,3370)(16.44,3860)(16.49,3980)(16.58,3735)(16.64,3305)(16.70,2695)(16.76,1875)(16.80,1690)(16.86,1570)(16.88,0)
(17.26,0)(17.285,1075)(17.33,2870)(17.38,4265)(17.44,4905)(17.52,5065)(17.58,4745)(17.64,4185)(17.70,3389)(17.76,2730)(17.80,2545)(17.86,2110)(17.88,0)
(18.26,0)(18.285,1715)(18.33,3260)(18.38,4460)(18.44,5010)(18.5,5145)(18.58,4870)(18.64,4390)(18.70,3705)(18.76,2720)(18.80,2540)(18.86,2130)(18.88,0)
(19.26,0)(19.285,1750)(19.33,3365)(19.38,4620)(19.44,5195)(19.51,5340)(19.58,5055)(19.64,4550)(19.70,3832)(19.76,2870)(19.80,2670)(19.86,2090)(19.88,0)
(20.26,0)(20.285,1230)(20.33,3080)(20.38,4520)(20.44,5175)(20.52,5340)(20.58,5010)(20.64,4435)(20.70,3614)(20.76,3240)(20.80,3050)(20.86,2470)(20.88,0)
(21.26,0)(21.285,1750)(21.33,3415)(21.38,4715)(21.44,5305)(21.52,5455)(21.58,5160)(21.64,4640)(21.70,3899)(21.76,2840)(21.80,2640)(21.86,2250)(21.88,0)
(22.26,0)(22.285,1280)(22.33,2810)(22.38,4000)(22.44,4545)(22.49,4680)(22.58,4410)(22.64,3930)(22.70,3252)(22.76,1890)(22.80,1660)(22.86,1030)(22.88,0)
(23.26,0)(23.285,1010)(23.33,2870)(23.38,4320)(23.44,4980)(23.5,5145)(23.58,4815)(23.64,4235)(23.70,3408)(23.76,2500)(23.80,2295)(23.86,1620)(23.88,0)
(24.26,0)(24.285,1655)(24.33,2665)(24.38,3450)(24.44,3810)(24.55,3900)(24.58,3720)(24.64,3405)(24.70,2957)(24.76,2560)(24.80,2420)(24.86,1750)(24.88,0)
(25.26,0)(25.285,1795)(25.33,3300)(25.38,4475)(25.44,5010)(25.48,5145)(25.58,4880)(25.64,4410)(25.70,3738)(25.76,2555)(25.80,2360)(25.86,1860)(25.88,0)
(26.26,0)(26.285,1750)(26.33,3070)(26.38,4095)(26.44,4565)(26.55,4680)(26.58,4445)(26.64,4035)(26.70,3450)(26.76,2495)(26.80,2330)(26.86,1910)(26.88,0)
(27.26,0)(27.285,1770)(27.33,3320)(27.38,4530)(27.44,5080)(27.52,5220)(27.58,4945)(27.64,4460)(27.70,3771)(27.76,2645)(27.80,2440)(27.86,1730)(27.88,0)
(28.26,0)(28.285,1715)(28.33,3190)(28.38,4335)(28.44,4860)(28.53,4990)(28.58,4730)(28.64,4270)(28.70,3615)(28.76,2640)(28.80,2460)(28.86,1880)(28.88,0)
(29.26,0)(29.285,1305)(29.33,2510)(29.38,3445)(29.44,3870)(29.48,3980)(29.58,3765)(29.64,3390)(29.70,2857)(29.76,1810)(29.80,1620)(29.86,1320)(29.88,0)
(30.26,0)(30.285,1130)(30.33,2655)(30.38,3840)(30.44,4385)(30.55,4520)(30.58,4250)(30.64,3775)(30.70,3096)(30.76,2445)(30.80,2250)(30.86,1650)(30.88,0)
(31.26,0)(31.285,1750)(31.33,3210)(31.38,4340)(31.44,4860)(31.5,4990)(31.58,4730)(31.64,4275)(31.70,3629)(31.76,3175)(31.80,2995)(31.86,2290)(31.88,0)(32,0)
} \closedcycle;
% stack below the solar
\addplot[fill=cBio,draw=none] table[x=x,y=l] {\basetab} \closedcycle;
\addplot[fill=cWind,draw=none] table[x=x,y=w] {\basetab} \closedcycle;
\addplot[fill=cGas,draw=none] table[x=x,y=g] {\basetab} \closedcycle;
\addplot[color=cTrash,line width=0.8pt] table[x=x,y=l] {\basetab};
% lignite
\addplot[fill=cLig,draw=none] coordinates {
(-0.25,2000)(1.3,2000)(1.5,1890)(1.7,2000)(3.94,2000)(3.95,1733)(4.86,1733)(4.87,1500)(5.66,1500)(5.67,1306)(6.34,1306)(6.35,1050)(7.95,1050)(7.96,764)(8.28,764)(8.29,608)(9.09,608)(9.1,314)(9.73,314)(9.81,453)(10.3,437)(10.7,437)(10.8,570)(10.96,570)(11.1,437)(11.7,437)(11.8,570)(11.96,570)(12.1,437)(12.7,437)(12.78,570)(12.95,570)(13.1,437)(13.7,437)(13.78,570)(13.95,570)(14.1,437)(14.75,437)(14.83,570)(14.96,570)(15.1,298)(15.75,298)(15.82,376)(15.95,376)(16.1,298)(16.7,298)(16.85,453)(16.97,376)(17.76,376)(17.97,763)(18.1,647)(18.8,647)(18.87,802)(18.97,802)(19.1,647)(19.78,647)(19.84,802)(19.96,802)(20.1,647)(20.78,647)(20.85,802)(20.96,802)(21.1,647)(21.8,647)(21.88,802)(21.98,802)(22.1,647)(22.2,600)(22.33,570)(24.3,570)(24.39,700)(24.5,640)(29.0,640)(29.25,540)(29.99,540)(30.16,802)(30.49,957)(30.65,1150)(31.06,1423)(32,1515)
} \closedcycle;
% nuclear
\addplot[fill=cNuc,draw=none] coordinates {
(-0.25,1850)(1.3,1850)(1.5,1770)(1.7,1850)(3.94,1850)(3.95,1593)(4.86,1593)(4.87,1345)(5.66,1345)(5.67,1151)(6.34,1151)(6.35,919)(7.95,919)(7.96,647)(8.28,647)(8.29,430)(9.09,430)(9.1,198)(17.76,198)(17.97,453)(29.99,453)(30.16,686)(30.49,841)(30.65,1035)(31.06,1322)(32,1345)
} \closedcycle;
% grid over the fills
\pgfplotsinvokeforeach{-2000,-1000,1000,2000,3000,4000,6000,7000,8000,9000}{
  \draw[black,opacity=0.11,line width=1.8pt] (axis cs:-0.2545,#1) -- (axis cs:32.772,#1);
}
\draw[black,opacity=0.28,line width=1.8pt] (axis cs:-0.2545,5000) -- (axis cs:32.772,5000);
\pgfplotsinvokeforeach{0,2,...,32}{
  \draw[black,opacity=0.11,line width=1.8pt] (axis cs:#1,-2867) -- (axis cs:#1,9986);
}
\draw[color=black!68,line width=1.8pt] (axis cs:-0.2545,0) -- (axis cs:32.772,0);
\draw[color=black!48,line width=1.6pt] (rel axis cs:0,0) -- (rel axis cs:1,0) -- (rel axis cs:1,1);
% lines
\addplot[color=cBlack,line width=2.4pt,line join=round] table[x=x,y=y] {\blacktab};
\addplot[smooth,tension=0.35,color=cRed,line width=2.2pt,line join=round] table[x=x,y=y] {\redtab};
\end{axis}

\begin{axis}[
  at={(125.3pt,169.3pt)},anchor=south west,scale only axis,
  width=1pt,height=552.7pt,
  xmin=0,xmax=1,ymin=-2867,ymax=9986,
  axis y line*=left,axis x line=none,
  ytick={-2000,-1000,...,9000},
  yticklabels={-2 000,-1 000,\textcolor{black}{0},1 000,2 000,3 000,4 000,5 000,6 000,7 000,8 000,9 000},
  minor y tick num=4,
  y tick label style={font=\fontsize{16}{18}\selectfont\bfseries,text=cTick},
  yticklabel style={xshift=-1.5pt},
  tick align=outside,major tick length=4pt,minor tick length=4pt,
  tick style={color=black!70,line width=0.9pt},
  axis line style={draw=black!70,line width=1pt},
]
\end{axis}

% zoom icon
\draw[color=black!33,line width=7pt] (1434,{777-106}) circle (16.5);
\draw[color=black!33,line width=8pt,line cap=round] (1449,{777-121}) -- (1458,{777-130});
\draw[color=black!33,line width=5pt,line cap=round] (1426,{777-106}) -- (1442,{777-106});
\draw[color=black!33,line width=5pt,line cap=round] (1434,{777-98}) -- (1434,{777-114});

% legend
\draw[cRed,line width=2pt] (29,{777-656}) -- (47,{777-656});
\lgd{54}{656}{Nettó tény rendszerterhelés - net.ker.elsz.meres}
\draw[cBlack,line width=2pt] (468,{777-656}) -- (486,{777-656});
\lgd{493}{656}{Nettó hazai termelés tény}
\mk{726}{656}{cNuc}\lgd{737}{656}{Nukleáris erőművek}
\mk{921}{656}{cLig}\lgd{935}{656}{Barnakőszén-lignit erőművek}
\mk{1200}{656}{cGas}\lgd{1212}{656}{Gáz (fosszilis) erőművek}
\mk{32}{685}{cOil}\lgd{45}{685}{Olaj (fosszilis) erőművek}
\mk{272}{685}{cWind}\lgd{284}{685}{Szárazföldi szélerőművek}
\mk{517}{685}{cBio}\lgd{529}{685}{Biomassza erőművek}
\mk{728}{685}{cTrash}\lgd{740}{685}{Szemétégető erőművek}
\mk{953}{685}{cRiv}\lgd{967}{685}{Folyóvizes erőművek}
\mk{1163}{685}{cRes}\lgd{1177}{685}{Víztározós vízerőművek}
\mk{32}{714}{cOth}\lgd{45}{714}{Egyéb megújuló erőművek}
\mk{287}{714}{cGeo}\lgd{300}{714}{Geotermikus erőművek}
\mk{515}{714}{cPri}\lgd{528}{714}{Egyéb primer energiahordozójú erőművek}
\mk{896}{714}{cCoal}\lgd{908}{714}{Feketekőszén erőművek}
\mk{1134}{714}{cSun}\lgd{1147}{714}{Naperőművek kereskedelmi}
\mk{32}{744}{cHmke}\lgd{45}{744}{HMKE PV - Mért hálózati kitáplálás}
\mk{352}{744}{cScte}\lgd{365}{744}{SCTE ipari PV - Mért hálózati kitáplálás}
\mk{710}{744}{cImp}\lgd{721}{744}{Import-export szaldó}
\end{tikzpicture}
\end{document}
